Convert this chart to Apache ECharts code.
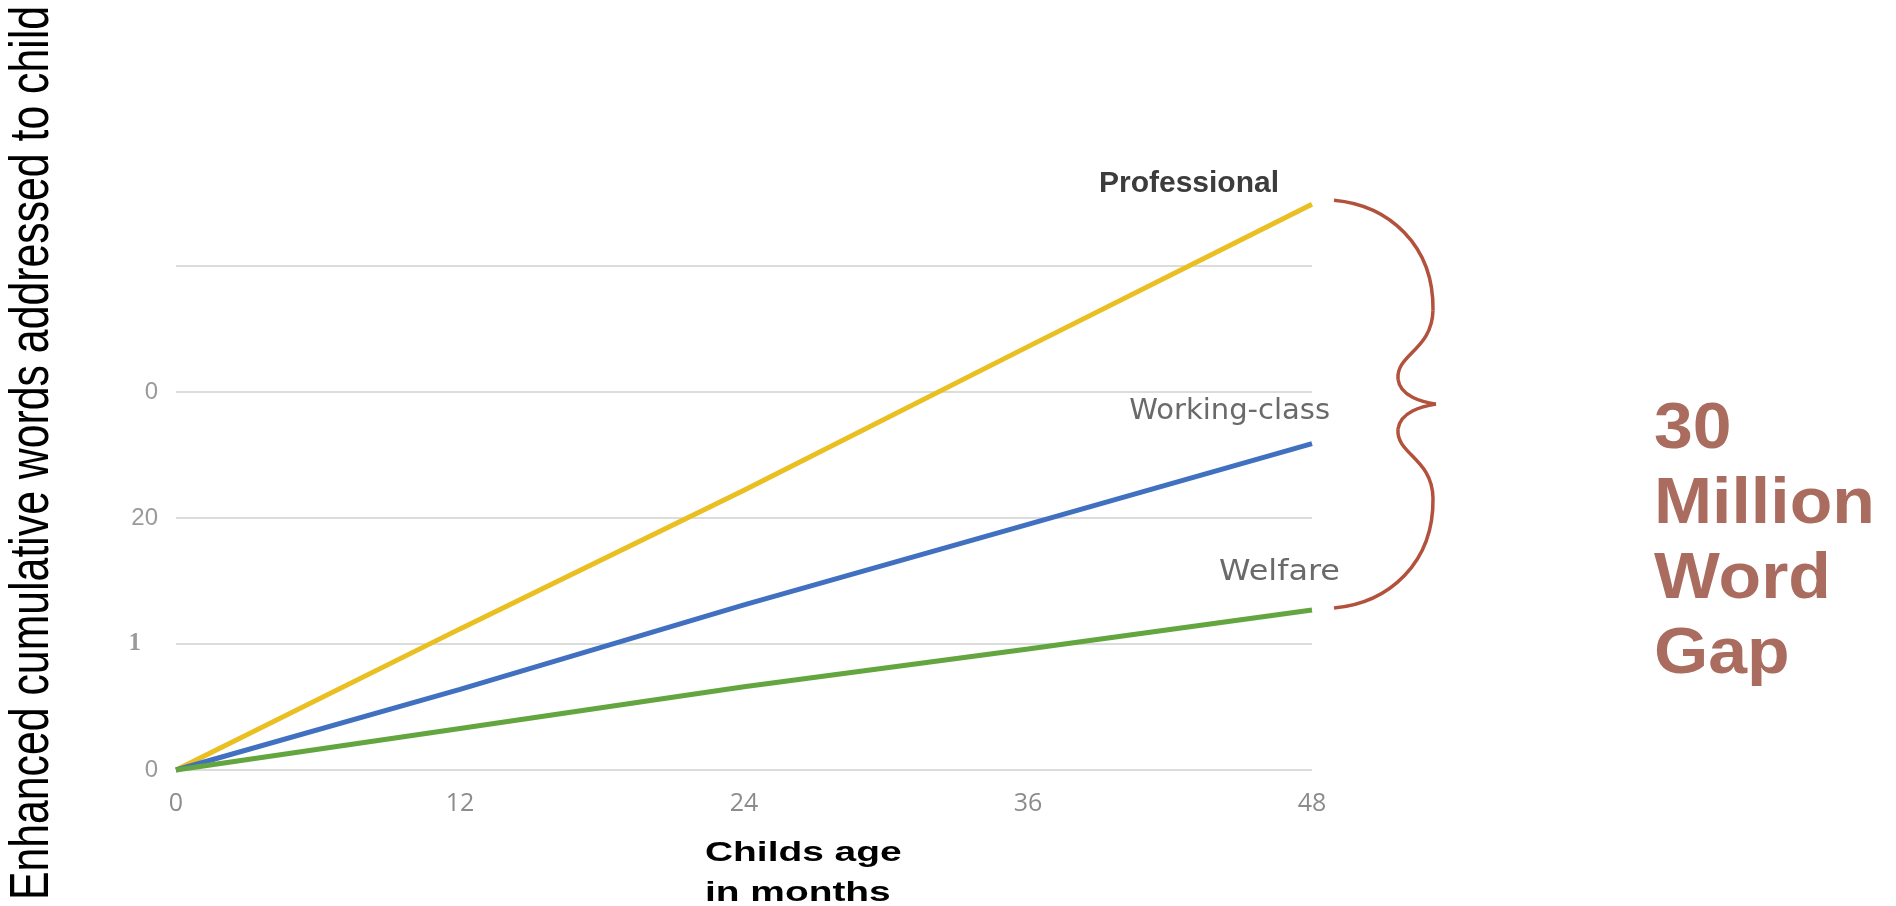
<!DOCTYPE html>
<html>
<head>
<meta charset="utf-8">
<script src="https://cdn.jsdelivr.net/npm/echarts@6/dist/echarts.min.js"></script>
<style>
html,body{margin:0;padding:0;background:#fff;}
#chart{width:1896px;height:906px;}
</style>
</head>
<body>
<div id="chart"></div>
<script>
// ---- data ----
const months = [0, 12, 24, 36, 48];
const professional = [0, 1.12, 2.22, 3.36, 4.49];
const workingClass = [0, 0.64, 1.31, 1.95, 2.59];
const welfare = [0, 0.33, 0.66, 0.96, 1.27];
const seriesNames = ['Professional', 'Working-class', 'Welfare'];
const xTickLabels = ['0', '12', '24', '36', '48'];
const yTickLabels = ['0', '1', '20', '0', ''];
const yTitle = 'Enhanced cumulative words addressed to child';
const xTitle = 'Childs age\nin months';
const gapText = '30\nMillion\nWord\nGap';

const pairs = (vals) => months.map((m, i) => [m, vals[i]]);

const chart = echarts.init(document.getElementById('chart'), null, {renderer: 'canvas'});

const lineSeries = (name, vals, color) => ({
  name: name,
  type: 'line',
  data: pairs(vals),
  symbol: 'none',
  smooth: false,
  clip: false,
  lineStyle: {color: color, width: 5},
  itemStyle: {color: color},
  z: 3
});

chart.setOption({
  animation: false,
  backgroundColor: '#ffffff',
  grid: {left: 176, right: 584, top: 266, bottom: 136, containLabel: false},
  xAxis: {
    type: 'value',
    min: 0, max: 48, interval: 12,
    axisLine: {show: false},
    axisTick: {show: false},
    splitLine: {show: false},
    axisLabel: {
      color: '#8c8c8c', fontSize: 25, margin: 21,
      fontFamily: 'Open Sans',
      formatter: (v, i) => xTickLabels[i]
    }
  },
  yAxis: {
    type: 'value',
    min: 0, max: 4, interval: 1,
    axisLine: {show: false},
    axisTick: {show: false},
    splitLine: {show: true, lineStyle: {color: '#dcdcdc', width: 2}},
    axisLabel: {
      color: '#9a9a9a', fontSize: 24, margin: 18,
      fontFamily: 'Liberation Sans',
      formatter: (v, i) => yTickLabels[i] === '1' ? '{serif|' + yTickLabels[i] + '}' : yTickLabels[i],
      rich: {
        serif: {fontFamily: 'Liberation Serif', fontWeight: 'bold', fontSize: 25, color: '#9a9a9a', padding: [0, 17, 0, 0]}
      }
    }
  },
  series: [
    lineSeries(seriesNames[0], professional, '#e9bf22'),
    lineSeries(seriesNames[1], workingClass, '#4170c0'),
    lineSeries(seriesNames[2], welfare, '#63a53e')
  ]
});

// annotation layer positioned from the data ends
const last = months.length - 1;
const pPro = chart.convertToPixel({gridIndex: 0}, [months[last], professional[last]]);
const pWork = chart.convertToPixel({gridIndex: 0}, [months[last], workingClass[last]]);
const pWel = chart.convertToPixel({gridIndex: 0}, [months[last], welfare[last]]);

const x0 = pPro[0] + 22;
const yT = pPro[1] - 4;
const yB = pWel[1] - 2;
const ty = (yT + yB) / 2;
const braceStyle = {fill: 'none', stroke: '#b2523d', lineWidth: 3.5};
const seg = (a, c1, c2, b) => ({
  type: 'bezierCurve',
  shape: {x1: a[0], y1: a[1], cpx1: c1[0], cpy1: c1[1], cpx2: c2[0], cpy2: c2[1], x2: b[0], y2: b[1]},
  style: braceStyle
});
const braceSegs = [
  seg([x0, yT], [x0 + 55, yT + 5], [x0 + 100, yT + 45], [x0 + 99, yT + 110]),
  seg([x0 + 99, yT + 110], [x0 + 98, yT + 150], [x0 + 62, ty - 50], [x0 + 64, ty - 25]),
  seg([x0 + 64, ty - 25], [x0 + 66, ty - 8], [x0 + 88, ty - 2], [x0 + 102, ty]),
  seg([x0 + 102, ty], [x0 + 88, ty + 2], [x0 + 66, ty + 8], [x0 + 64, ty + 25]),
  seg([x0 + 64, ty + 25], [x0 + 62, ty + 50], [x0 + 98, yB - 150], [x0 + 99, yB - 110]),
  seg([x0 + 99, yB - 110], [x0 + 100, yB - 45], [x0 + 55, yB - 5], [x0, yB])
];

chart.setOption({
  graphic: [
    {
      type: 'text', x: 33, y: 453, rotation: Math.PI / 2, scaleX: 0.764,
      style: {
        text: yTitle, fill: '#000',
        font: '56px "Liberation Sans", Arial, sans-serif',
        align: 'center', verticalAlign: 'middle'
      }
    },
    {
      type: 'text', x: 705, y: 834, scaleX: 1.44,
      style: {
        text: xTitle, fill: '#000', lineHeight: 40,
        font: 'bold 27px "Liberation Sans", Arial, sans-serif',
        align: 'left', verticalAlign: 'top'
      }
    },
    {
      type: 'text', x: 1654, y: 393, scaleX: 1.09,
      style: {
        text: gapText, fill: '#aa6c5e', lineHeight: 75,
        font: 'bold 64px "Liberation Sans", Arial, sans-serif',
        align: 'left', verticalAlign: 'top'
      }
    },
    {
      type: 'text', x: pPro[0] - 33, y: pPro[1] - 21,
      style: {
        text: seriesNames[0], fill: '#3c3c3c',
        font: 'bold 30px "Liberation Sans", Arial, sans-serif',
        align: 'right', verticalAlign: 'middle'
      }
    },
    {
      type: 'text', x: pWork[0] + 18, y: pWork[1] - 32,
      style: {
        text: seriesNames[1], fill: '#6a6a6a',
        font: '29px "DejaVu Sans", sans-serif',
        align: 'right', verticalAlign: 'middle'
      }
    },
    {
      type: 'text', x: pWel[0] + 28, y: pWel[1] - 38, scaleX: 1.1,
      style: {
        text: seriesNames[2], fill: '#6a6a6a',
        font: '29px "DejaVu Sans", sans-serif',
        align: 'right', verticalAlign: 'middle'
      }
    }
  ].concat(braceSegs)
});
</script>
</body>
</html>
